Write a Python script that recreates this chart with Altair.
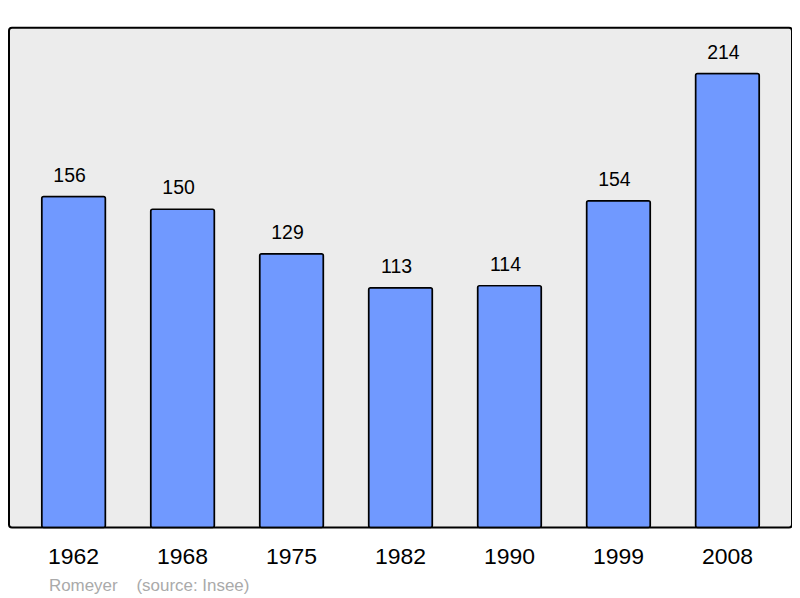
import altair as alt
import pandas as pd

years = ["1962", "1968", "1975", "1982", "1990", "1999", "2008"]
population = [156, 150, 129, 113, 114, 154, 214]

df = pd.DataFrame({"year": years, "pop": population})

x = alt.X("year:N", sort=years,
          scale=alt.Scale(paddingInner=0.415, paddingOuter=0.30),
          axis=alt.Axis(title=None, labelAngle=0, ticks=False, domain=False,
                        labelFontSize=23, labelColor="#000000", labelPadding=18,
                        labelFont="Liberation Sans"))
y = alt.Y("pop:Q", scale=alt.Scale(domain=[0, 235.6], nice=False, zero=True),
          axis=None)

bars = alt.Chart(df).mark_bar(color="#7099ff", stroke="#000000", strokeWidth=1.5,
                              cornerRadius=2).encode(x=x, y=y)
labels = alt.Chart(df).mark_text(baseline="bottom", dy=-11, dx=-4, fontSize=19.5,
                                 font="Liberation Sans", color="#000000").encode(
    x=x, y=y, text="pop:Q")

chart = (bars + labels).properties(
    width=785, height=501,
    autosize=alt.AutoSizeParams(type="none"),
    padding={"left": 1, "top": 19, "right": 0, "bottom": 70},
    title=alt.TitleParams("Romeyer\u00a0\u00a0\u00a0\u00a0(source: Insee)", orient="bottom",
                          anchor="start", fontSize=17, fontWeight="normal",
                          color="#aaaaaa", font="Liberation Sans", dx=40, offset=10),
).configure_view(
    fill="#ececec", stroke="#000000", strokeWidth=2, cornerRadius=3
)

chart.save("out.html", embed_options={"renderer": "svg", "actions": False})
